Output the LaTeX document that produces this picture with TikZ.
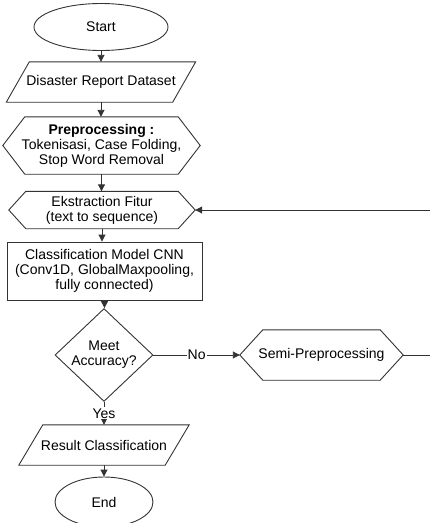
\documentclass[tikz,border=0pt]{standalone}
\usepackage{fontspec}
\setmainfont{Liberation Sans}
\usetikzlibrary{shapes.geometric,arrows.meta}

\begin{document}
\begin{tikzpicture}[
      x=1pt, y=-1pt,
      font=\fontsize{14}{15}\selectfont,
      line/.style={draw=black!80,line width=0.9pt},
      term/.style={line,ellipse,align=center},
      proc/.style={line,rectangle,align=center},
      plain/.style={rectangle,inner sep=0pt,align=center},
      decision/.style={line,diamond,minimum width=98,minimum height=78,inner sep=0pt,align=center},
      flow/.style={line,-{Triangle[width=7pt,length=7pt]}},
      lbl/.style={fill=white,inner sep=1pt}
    ]
    \useasboundingbox (0,0) rectangle (430,523);
    \clip (0,0) rectangle (430,523);
    % Draw the blocks.
    \node[term, minimum width=134, minimum height=47] (start) at (101,27) {Start};
    \node[plain, minimum width=166, minimum height=40] (data) at (101,82) {Disaster Report Dataset};
    \node[plain, minimum width=197, minimum height=57] (prep) at (101.5,145.5) {\textbf{Preprocessing :}\\Tokenisasi, Case Folding,\\Stop Word Removal};
    \node[plain, minimum width=186, minimum height=37] (ext) at (102,210) {Ekstraction Fitur\\(text to sequence)};
    \node[proc, minimum width=195, minimum height=58] (cnn) at (104.5,271) {Classification Model CNN\\(Conv1D, GlobalMaxpooling,\\fully connected)};
    \node[decision] (dec) at (104,355) {Meet\\Accuracy?};
    \node[plain, minimum width=163, minimum height=50] (semi) at (321.5,355) {Semi-Preprocessing};
    \node[plain, minimum width=146, minimum height=40] (res) at (104,445) {Result Classification};
    \node[term, minimum width=98, minimum height=50] (end) at (104,502) {End};
    % Draw the hexagon outlines.
    \foreach \n/\d in {prep/22, ext/17, semi/23}
      \draw[line] ([xshift=\d pt]\n.north west) -- ([xshift=-\d pt]\n.north east) -- (\n.east)
        -- ([xshift=-\d pt]\n.south east) -- ([xshift=\d pt]\n.south west) -- (\n.west) -- cycle;
    % Draw the parallelogram outlines.
    \foreach \n/\d in {data/11.5, res/12}
      \draw[line] ([xshift=\d pt]\n.north west) -- ([xshift=\d pt]\n.north east)
        -- ([xshift=-\d pt]\n.south east) -- ([xshift=-\d pt]\n.south west) -- cycle;
    % Draw the flow.
    \draw[flow] (start.south) -- (start.south |- data.north);
    \draw[flow] (data.south) -- (data.south |- prep.north);
    \draw[flow] (prep.south) -- (prep.south |- ext.north);
    \draw[flow] (ext.south) -- (ext.south |- cnn.north);
    \draw[flow] (cnn.south) -- (cnn.south |- dec.north);
    \draw[flow] (dec.east) -- node[lbl] {No} (semi.west);
    \draw[flow] (dec.south) -- node[lbl] {Yes} (res.north);
    \draw[flow] (res.south) -- (res.south |- end.north);
    % Feedback loop.
    \coordinate (fb) at (445,0);
    \draw[flow] (semi.east) -- (semi.east -| fb) |- (ext.east);
\end{tikzpicture}
\end{document}
